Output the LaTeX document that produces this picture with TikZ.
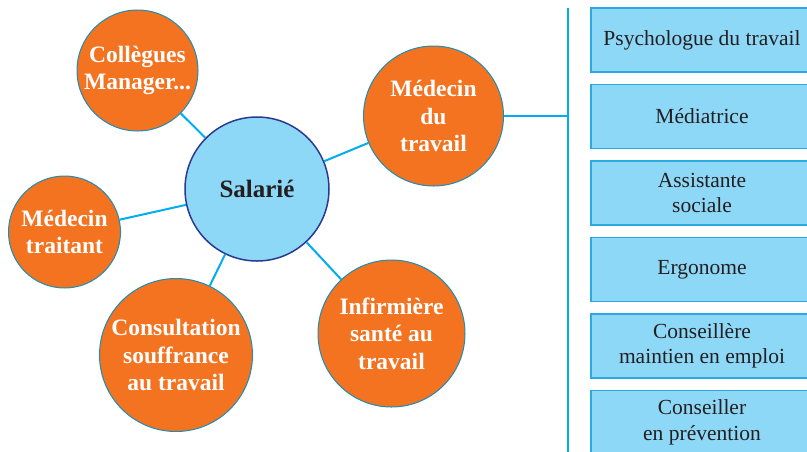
\documentclass[tikz,border=0pt]{standalone}
\usepackage{fontspec}
\setmainfont{Liberation Serif}
\definecolor{orng}{HTML}{F37321}
\definecolor{circb}{HTML}{1C8DB5}
\definecolor{salfill}{HTML}{8ED8F7}
\definecolor{salb}{HTML}{2B3990}
\definecolor{conn}{HTML}{00AEEF}
\definecolor{boxfill}{HTML}{8ED8F7}
\definecolor{boxb}{HTML}{29ABE2}
\definecolor{txt}{HTML}{231F20}
\begin{document}
\begin{tikzpicture}[x=1pt,y=-1pt,
  orangecirc/.style={circle, fill=orng, draw=circb, line width=1pt, inner sep=0pt, text=white,
    font=\fontsize{23.5}{27.5}\selectfont\bfseries, align=center},
  salcirc/.style={circle, fill=salfill, draw=salb, line width=1.5pt, inner sep=0pt, text=txt,
    font=\fontsize{25}{30}\selectfont\bfseries},
  connline/.style={draw=conn, line width=2pt},
  infobox/.style={rectangle, fill=boxfill, draw=boxb, line width=1.2pt, minimum width=222pt,
    minimum height=64pt, inner sep=0pt, text=txt, align=center,
    font=\fontsize{21.5}{25.5}\selectfont}
]
\useasboundingbox (0,0) rectangle (807,451);

\node[salcirc, minimum size=144pt] (sal) at (257,189) {Salarié};
\node[orangecirc, minimum size=121pt] (coll) at (137.5,70.5) {Collègues\\Manager...};
\node[orangecirc, minimum size=112pt] (mt) at (64.5,232) {Médecin\\traitant};
\node[orangecirc, minimum size=153pt] (cons) at (176,355) {Consultation\\souffrance\\au travail};
\node[orangecirc, minimum size=147pt] (inf) at (391.5,333.5) {Infirmière\\santé au\\travail};
\node[orangecirc, minimum size=140pt] (mdt) at (433.5,116) {Médecin\\du\\travail};

\draw[connline] (coll) -- (sal);
\draw[connline] (mt) -- (sal);
\draw[connline] (cons) -- (sal);
\draw[connline] (inf) -- (sal);
\draw[connline] (mdt) -- (sal);

\coordinate (vtop) at (568,8);
\coordinate (vbot) at (568,455);
\coordinate (vj) at (568,116);
\draw[connline] (vtop) -- (vbot);
\draw[connline] (mdt.east) -- (vj);

\node[infobox] (b1) at (702,40) {Psychologue du travail};
\node[infobox] (b2) at (702,116.5) {Médiatrice};
\node[infobox] (b3) at (702,193) {Assistante\\sociale};
\node[infobox] (b4) at (702,269.5) {Ergonome};
\node[infobox] (b5) at (702,346) {Conseillère\\maintien en emploi};
\node[infobox] (b6) at (702,422.5) {Conseiller\\en prévention};
\end{tikzpicture}
\end{document}
